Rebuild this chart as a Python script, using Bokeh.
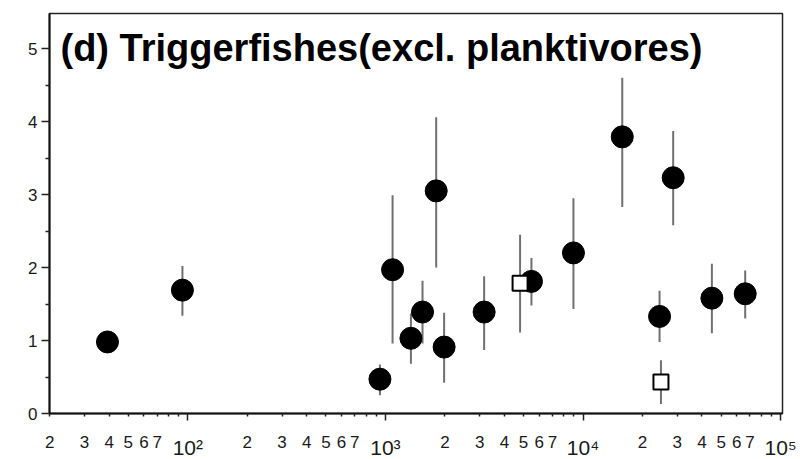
from bokeh.plotting import figure
from bokeh.models import LogAxis, LogScale, FixedTicker, Label
from bokeh.embed import file_html
from bokeh.resources import INLINE

# Body size (x) vs. mean value with ranges: filled circles and open squares
circle_x = [39.2, 93.9, 938, 1087, 1346, 1541, 1807, 1982, 3159, 5483, 8945,
            15800, 24400, 28600, 44900, 66200]
circle_y = [0.98, 1.69, 0.47, 1.97, 1.03, 1.39, 3.05, 0.91, 1.39, 1.81, 2.20,
            3.79, 1.33, 3.23, 1.58, 1.64]
circle_lo = [0.98, 1.34, 0.25, 0.96, 0.68, 0.96, 2.00, 0.42, 0.87, 1.48, 1.43,
             2.83, 0.98, 2.58, 1.10, 1.30]
circle_hi = [0.98, 2.02, 0.67, 2.99, 1.37, 1.82, 4.06, 1.38, 1.88, 2.13, 2.95,
             4.60, 1.68, 3.87, 2.05, 1.96]

square_x = [4803, 24800]
square_y = [1.785, 0.43]
square_lo = [1.11, 0.13]
square_hi = [2.45, 0.73]

# Tick positions and labels for the log axis
decades = [10, 100, 1000, 10000]
minor_digits = [2, 3, 4, 5, 6, 7, 8, 9]
labelled_digits = ["2", "3", "4", "5", "6", "7", "", ""]
power_ticks = [100, 1000, 10000, 100000]
power_labels = ["10²", "10³", "10⁴", "10⁵"]
y_ticks = [0, 1, 2, 3, 4, 5]
y_minor = [0.5, 1.5, 2.5, 3.5, 4.5]

title_text = "(d) Triggerfishes(excl. planktivores)"

p = figure(x_axis_type=None, x_range=(19.95, 10 ** 5.0096), y_range=(0, 5.48),
           frame_width=733, frame_height=400, min_border_left=49,
           min_border_top=13, min_border_right=18, min_border_bottom=20,
           output_backend="svg", toolbar_location=None,
           background_fill_color="white", border_fill_color="white")
p.x_scale = LogScale()
p.grid.visible = False
p.outline_line_color = "#222222"
p.outline_line_width = 1.5

digit_ticks = [d * dec for dec in decades for d in minor_digits]
digit_labels = {int(d * dec): lab for dec in decades
                for d, lab in zip(minor_digits, labelled_digits)}

# nearest axis: digit labels, longer ticks at the decades
ax_digits = LogAxis(ticker=FixedTicker(ticks=digit_ticks, minor_ticks=power_ticks),
                    major_label_overrides=digit_labels)
ax_digits.axis_line_color = "#111111"
ax_digits.axis_line_width = 2
ax_digits.major_tick_out = 3
ax_digits.major_tick_in = 0
ax_digits.minor_tick_out = 7
ax_digits.minor_tick_in = 0
ax_digits.major_tick_line_color = "#222222"
ax_digits.minor_tick_line_color = "#222222"
ax_digits.major_tick_line_width = 1.5
ax_digits.minor_tick_line_width = 1.5
ax_digits.major_label_standoff = 15
ax_digits.major_label_text_font = "Liberation Sans"
ax_digits.major_label_text_font_size = "17px"
ax_digits.major_label_text_color = "#1a1a1a"
p.add_layout(ax_digits, "below")

# second axis carrying the powers of ten
ax_pow = LogAxis(ticker=FixedTicker(ticks=power_ticks),
                 major_label_overrides={int(t): s for t, s in zip(power_ticks, power_labels)})
ax_pow.axis_line_color = None
ax_pow.major_tick_line_color = None
ax_pow.minor_tick_line_color = None
ax_pow.major_tick_out = 0
ax_pow.major_tick_in = 0
ax_pow.major_label_standoff = -15
ax_pow.major_label_text_font = "Liberation Sans"
ax_pow.major_label_text_font_size = "21px"
ax_pow.major_label_text_color = "#1a1a1a"
p.add_layout(ax_pow, "below")

yax = p.yaxis[0]
yax.ticker = FixedTicker(ticks=y_ticks, minor_ticks=y_minor)
yax.axis_line_color = "#111111"
yax.axis_line_width = 2
yax.major_tick_out = 8
yax.major_tick_in = 0
yax.minor_tick_out = 4
yax.minor_tick_in = 0
yax.major_tick_line_color = "#222222"
yax.minor_tick_line_color = "#222222"
yax.major_tick_line_width = 1.5
yax.minor_tick_line_width = 1.5
yax.major_label_standoff = 4
yax.major_label_text_font = "Liberation Sans"
yax.major_label_text_font_size = "17px"
yax.major_label_text_color = "#1a1a1a"

# range bars behind the markers
p.segment(x0=circle_x, y0=circle_lo, x1=circle_x, y1=circle_hi,
          line_color="#707070", line_width=2)
p.segment(x0=square_x, y0=square_lo, x1=square_x, y1=square_hi,
          line_color="#707070", line_width=2)

p.scatter(x=circle_x, y=circle_y, marker="circle", size=22,
          fill_color="black", line_color="black", line_width=1)
p.scatter(x=square_x, y=square_y, marker="square", size=15,
          fill_color="white", line_color="black", line_width=2)

p.add_layout(Label(x=11, y=366, x_units="screen", y_units="screen",
                   text=title_text, text_font="Liberation Sans",
                   text_font_style="bold", text_font_size="38px",
                   text_color="black", text_baseline="alphabetic"))

open("out.html", "w").write(file_html(p, INLINE))
